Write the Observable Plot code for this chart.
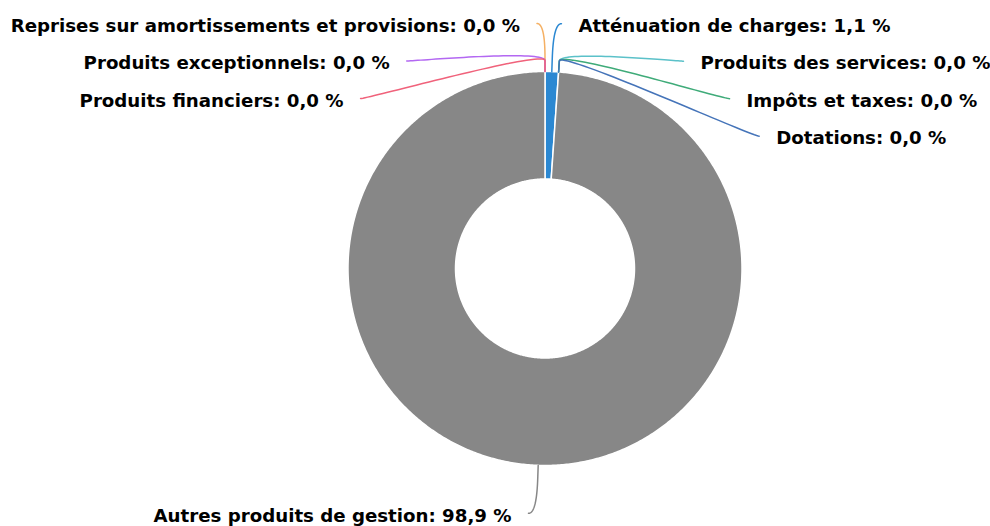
<!DOCTYPE html>
<html>
<head>
<meta charset="utf-8">
<script src="https://cdn.jsdelivr.net/npm/d3@7"></script>
<script src="https://cdn.jsdelivr.net/npm/@observablehq/plot@0.6"></script>
<style>
  html, body { margin: 0; padding: 0; background: #ffffff; }
  #chart svg { display: block; }
</style>
</head>
<body>
<div id="chart"></div>
<script>
// ---- data ----
const categories = [
  "Atténuation de charges",
  "Produits des services",
  "Impôts et taxes",
  "Dotations",
  "Autres produits de gestion",
  "Reprises sur amortissements et provisions",
  "Produits exceptionnels",
  "Produits financiers"
];
const shares = [1.1, 0.0, 0.0, 0.0, 98.9, 0.0, 0.0, 0.0];

// ---- styles ----
const palette = ["#2b88d2", "#5bc1c9", "#3fab79", "#4574b9", "#878787", "#f5b063", "#b368f2", "#f0627b"];

// ---- layout constants ----
const W = 990, H = 526;
const CX = 544.5, CY = 268;      // pie centre in the frame
const R = 197, R_IN = 89.5;      // outer / inner radius
const LABEL_R = 245;             // label ring radius
const BREAK = 11, PAD = 8, GAP = 17, SLOT = 37.5, SOFT = 8;

const fmt = v => v.toFixed(1).replace(".", ",") + " %";
const rows = categories.map((name, i) => ({name, value: shares[i], color: palette[i], i}));
const arcs = d3.pie().sort(null).value(d => d.value).startAngle(0).endAngle(2 * Math.PI)(rows);
const polar = (a, r) => [r * Math.sin(a), -r * Math.cos(a)];

// slice polygons
const slicePts = [];
for (const a of arcs) {
  if (a.endAngle - a.startAngle <= 0) continue;
  const n = Math.max(2, Math.ceil((a.endAngle - a.startAngle) / Math.PI * 360));
  const ring = [];
  for (let k = 0; k <= n; k++) ring.push(polar(a.startAngle + (a.endAngle - a.startAngle) * k / n, R));
  for (let k = n; k >= 0; k--) ring.push(polar(a.startAngle + (a.endAngle - a.startAngle) * k / n, R_IN));
  ring.push(ring[0]);
  ring.forEach(([x, y]) => slicePts.push({key: a.data.name, color: a.data.color, x, y}));
}

// label placement
const labels = arcs.map(a => {
  const mid = (a.startAngle + a.endAngle) / 2;
  return {a, mid, side: mid <= Math.PI ? 1 : -1, target: -LABEL_R * Math.cos(mid)};
});
for (const side of [1, -1]) {
  const group = labels.filter(l => l.side === side).sort((p, q) => p.target - q.target);
  let prev = -Infinity;
  for (const l of group) {
    l.y = Math.max(l.target, prev + SLOT);
    prev = l.y;
    l.xEnd = side * (Math.sqrt(Math.max(0, LABEL_R * LABEL_R - l.y * l.y)) + PAD);
    l.tx = l.xEnd + side * GAP;
    l.ty = l.y + 2.5;
    l.text = l.a.data.name + ": " + fmt(l.a.data.value);
  }
}

// connectors (soft cubic from label to break point, then to slice edge)
const connPts = [];
for (const l of labels) {
  const t = polar(l.mid, R), b = polar(l.mid, R + BREAK);
  const p0 = [l.xEnd, l.y], p1 = [l.xEnd - l.side * SOFT, l.y];
  const p2 = [2 * b[0] - t[0], 2 * b[1] - t[1]], p3 = b;
  const steps = 40;
  for (let k = 0; k <= steps; k++) {
    const s = k / steps, u = 1 - s;
    const x = u*u*u*p0[0] + 3*u*u*s*p1[0] + 3*u*s*s*p2[0] + s*s*s*p3[0];
    const y = u*u*u*p0[1] + 3*u*u*s*p1[1] + 3*u*s*s*p2[1] + s*s*s*p3[1];
    connPts.push({key: l.a.data.name, color: l.a.data.color, x, y});
  }
  connPts.push({key: l.a.data.name, color: l.a.data.color, x: t[0], y: t[1]});
}

const textOpts = {x: "tx", y: "ty", text: "text", fontWeight: "bold", fontSize: 18.2, fill: "#000", fontFamily: "DejaVu Sans"};

const chart = Plot.plot({
  width: W,
  height: H,
  margin: 0,
  style: {background: "#ffffff", fontFamily: "DejaVu Sans"},
  x: {domain: [-CX, W - CX], range: [0, W], axis: null},
  y: {domain: [-CY, H - CY], range: [0, H], axis: null},
  color: {type: "identity"},
  marks: [
    Plot.line(slicePts, {x: "x", y: "y", z: "key", fill: "color", stroke: "#ffffff", strokeWidth: 1.5, strokeLinejoin: "round"}),
    Plot.line(connPts, {x: "x", y: "y", z: "key", stroke: "color", strokeWidth: 1.5}),
    Plot.text(labels.filter(l => l.side === 1), {...textOpts, textAnchor: "start"}),
    Plot.text(labels.filter(l => l.side === -1), {...textOpts, textAnchor: "end"})
  ]
});
document.getElementById("chart").appendChild(chart);
</script>
</body>
</html>
